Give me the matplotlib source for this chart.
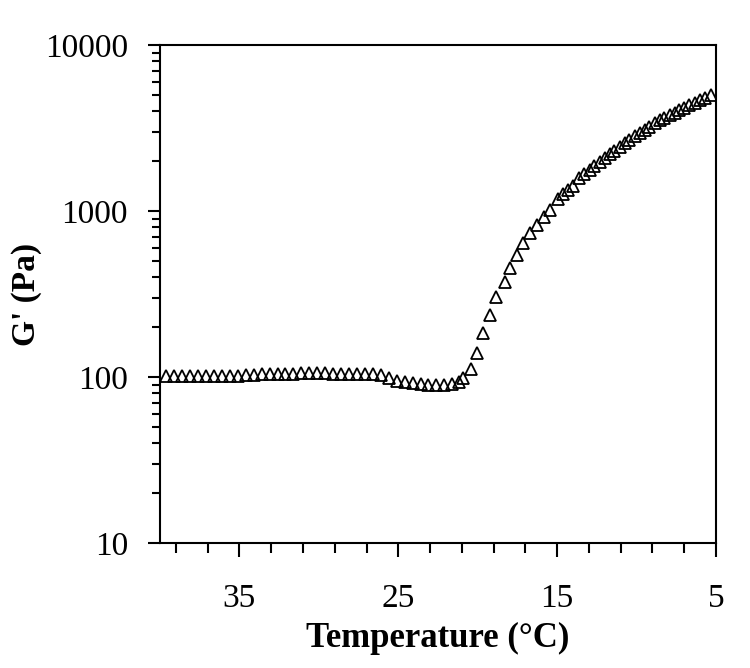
import matplotlib
matplotlib.use("Agg")
import matplotlib.pyplot as plt
from matplotlib.ticker import FixedLocator, LogLocator, NullFormatter

temperature = [39.6, 39.1, 38.6, 38.1, 37.6, 37.1, 36.6, 36.1, 35.6, 35.1,
               34.6, 34.1, 33.6, 33.1, 32.6, 32.1, 31.6, 31.1, 30.6, 30.1,
               29.6, 29.1, 28.6, 28.1, 27.6, 27.1, 26.6, 26.1, 25.6, 25.1,
               24.6, 24.1, 23.6, 23.1, 22.6, 22.1, 21.6,
               21.2, 20.9, 20.45, 20.04, 19.67, 19.25, 18.82, 18.30, 17.94,
               17.53, 17.15, 16.73, 16.27, 15.85, 15.47, 14.95,
               14.64, 14.3, 14.0, 13.6, 13.3, 12.95, 12.65, 12.33, 12.0, 11.7,
               11.4, 11.07, 10.75, 10.45, 10.12, 9.81, 9.5, 9.2, 8.87, 8.55,
               8.25, 7.92, 7.6, 7.3, 7.0, 6.67, 6.35, 6.04, 5.7, 5.3]
g_prime = [101, 101, 101, 101, 101, 101, 101, 101, 102, 102,
           103, 103, 104, 104, 105, 105, 105, 106, 106, 106,
           106, 105, 105, 105, 105, 105, 104, 103, 99, 95,
           93, 92, 91, 90, 90, 90, 91,
           93, 98, 112, 140, 184, 236, 303, 373, 454,
           543, 641, 737, 824, 920, 1014, 1180,
           1270, 1340, 1420, 1575, 1660, 1770, 1880, 1980, 2090, 2200,
           2310, 2440, 2560, 2680, 2820, 2950, 3090, 3220, 3380, 3530,
           3650, 3790, 3920, 4055, 4200, 4350, 4500, 4660, 4820, 5000]

x_major = [35, 25, 15, 5]
x_minor = [39, 37, 33, 31, 29, 27, 23, 21, 19, 17, 13, 11, 9, 7]
y_ticks = [10, 100, 1000, 10000]
y_labels = ["10", "100", "1000", "10000"]

plt.rcParams['font.family'] = ['Liberation Serif', 'DejaVu Serif']

fig = plt.figure(figsize=(7.5, 6.68), dpi=100)
ax = fig.add_axes([0.2133, 0.1871, 0.9547 - 0.2133, 0.9326 - 0.1871])

ax.plot(temperature, g_prime, linestyle='none', marker='^', markersize=9,
        markerfacecolor='none', markeredgecolor='black', markeredgewidth=1.3)

ax.set_yscale('log')
ax.set_xlim(40, 5)
ax.set_ylim(10, 10000)

ax.xaxis.set_major_locator(FixedLocator(x_major))
ax.xaxis.set_minor_locator(FixedLocator(x_minor))
ax.set_xticklabels([str(v) for v in x_major])
ax.yaxis.set_major_locator(FixedLocator(y_ticks))
ax.set_yticklabels(y_labels)
ax.yaxis.set_minor_locator(LogLocator(base=10, subs=range(2, 10)))
ax.yaxis.set_minor_formatter(NullFormatter())

ax.tick_params(axis='x', which='major', direction='out', length=10, width=1.5,
               pad=19, labelsize=24)
ax.tick_params(axis='x', which='minor', direction='out', length=7, width=1.5)
ax.tick_params(axis='y', which='major', direction='out', length=9, width=1.5,
               pad=14, labelsize=24)
ax.tick_params(axis='y', which='minor', direction='out', length=6, width=1.5)

for s in ax.spines.values():
    s.set_linewidth(1.5)

ax.set_xlabel("Temperature (°C)", fontsize=25, fontweight='bold', labelpad=6)
ax.set_ylabel("G' (Pa)", fontsize=24, fontweight='bold', labelpad=2)

fig.savefig("out.png", dpi=100)
